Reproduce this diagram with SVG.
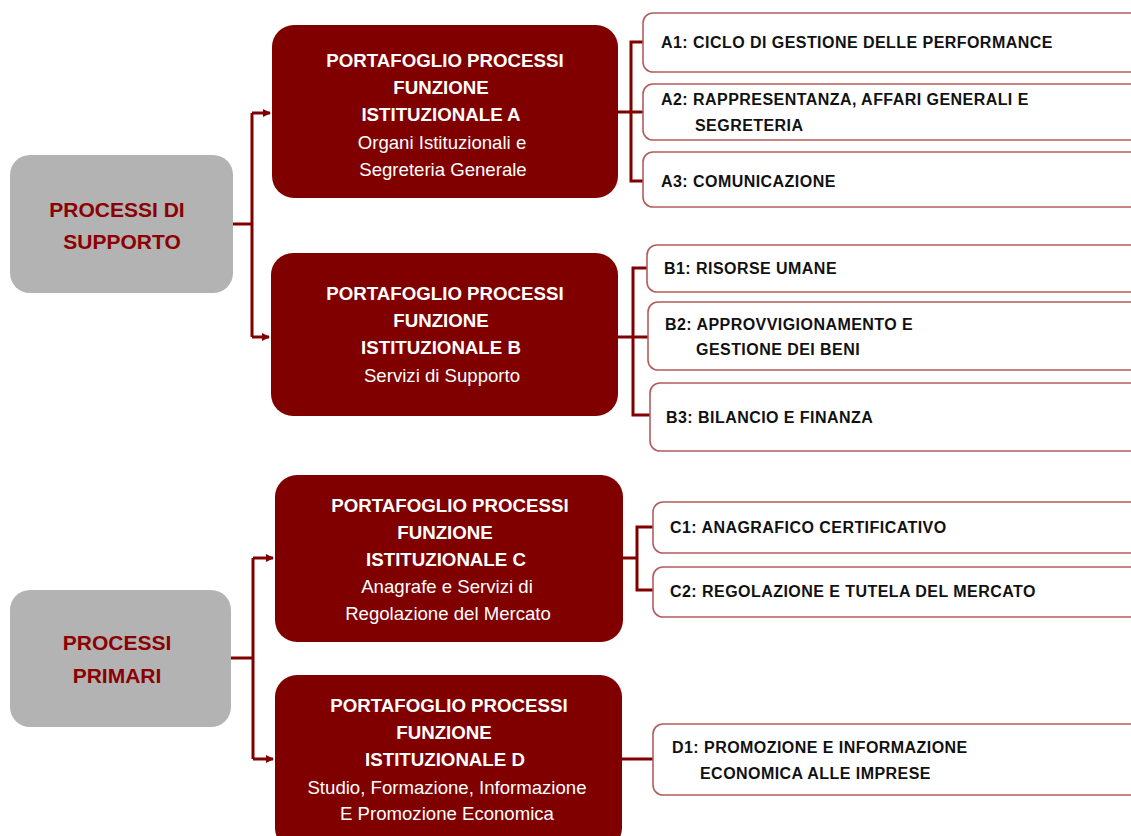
<svg xmlns="http://www.w3.org/2000/svg" width="1131" height="836" viewBox="0 0 1131 836">
<style>
.gray{fill:#b3b3b3}
.main{fill:#800000}
.child{fill:#fff;stroke:#b35c5c;stroke-width:1.6}
.gt{font-family:"Liberation Sans",Arial,sans-serif;font-weight:bold;font-size:21px;fill:#8b0000;text-anchor:middle}
.mt{font-family:"Liberation Sans",Arial,sans-serif;font-weight:bold;font-size:18.7px;fill:#fff;text-anchor:middle}
.ms{font-family:"Liberation Sans",Arial,sans-serif;font-size:18.6px;fill:#fff;text-anchor:middle}
.ct{font-family:"Liberation Sans",Arial,sans-serif;font-weight:bold;font-size:16px;letter-spacing:0.45px;fill:#111}
.ln{fill:none;stroke:#800000;stroke-width:3}
</style>
<defs>
<marker id="ah" markerWidth="8" markerHeight="8" refX="7" refY="4" orient="auto" markerUnits="userSpaceOnUse">
<path d="M0,0 L8,4 L0,8 Z" fill="#800000"/>
</marker>
</defs>
<rect width="1131" height="836" fill="#fff"/>

<g id="connectors">
<path class="ln" d="M233,224 H252"/>
<path class="ln" d="M252,113 V337"/>
<path class="ln" d="M252,113 H270" marker-end="url(#ah)"/>
<path class="ln" d="M252,337 H269" marker-end="url(#ah)"/>
<path class="ln" d="M231,658 H253"/>
<path class="ln" d="M253,558 V759"/>
<path class="ln" d="M253,558 H273" marker-end="url(#ah)"/>
<path class="ln" d="M253,759 H273" marker-end="url(#ah)"/>
<path class="ln" d="M618,112 H631"/>
<path class="ln" d="M643,42 H631 V181 H643"/>
<path class="ln" d="M631,112 H643"/>
<path class="ln" d="M618,337 H633"/>
<path class="ln" d="M647,268 H633 V415 H650"/>
<path class="ln" d="M633,337 H648"/>
<path class="ln" d="M623,558 H637"/>
<path class="ln" d="M653,527 H637 V590 H653"/>
<path class="ln" d="M622,759 H653"/>
</g>

<g id="supporto">
<rect class="gray" x="10" y="155" width="223" height="138" rx="20"/>
<text class="gt" x="117" y="217">PROCESSI DI</text>
<text class="gt" x="122" y="249">SUPPORTO</text>
</g>

<g id="primari">
<rect class="gray" x="10" y="590" width="221" height="137" rx="20"/>
<text class="gt" x="117" y="650">PROCESSI</text>
<text class="gt" x="117" y="683">PRIMARI</text>
</g>

<g id="funzA">
<rect class="main" x="272" y="25" width="346" height="173" rx="22"/>
<text class="mt" x="445" y="67">PORTAFOGLIO PROCESSI</text>
<text class="mt" x="441" y="94">FUNZIONE</text>
<text class="mt" x="441" y="121">ISTITUZIONALE A</text>
<text class="ms" x="442" y="149">Organi Istituzionali e</text>
<text class="ms" x="443" y="176">Segreteria Generale</text>
</g>

<g id="funzB">
<rect class="main" x="271" y="253" width="347" height="163" rx="22"/>
<text class="mt" x="445" y="300">PORTAFOGLIO PROCESSI</text>
<text class="mt" x="441" y="327">FUNZIONE</text>
<text class="mt" x="441" y="354">ISTITUZIONALE B</text>
<text class="ms" x="442" y="382">Servizi di Supporto</text>
</g>

<g id="funzC">
<rect class="main" x="275" y="475" width="348" height="167" rx="22"/>
<text class="mt" x="450" y="512">PORTAFOGLIO PROCESSI</text>
<text class="mt" x="445" y="539">FUNZIONE</text>
<text class="mt" x="446" y="566">ISTITUZIONALE C</text>
<text class="ms" x="447" y="593">Anagrafe e Servizi di</text>
<text class="ms" x="448" y="620">Regolazione del Mercato</text>
</g>

<g id="funzD">
<rect class="main" x="275" y="675" width="347" height="175" rx="22"/>
<text class="mt" x="449" y="712">PORTAFOGLIO PROCESSI</text>
<text class="mt" x="444" y="739">FUNZIONE</text>
<text class="mt" x="445" y="766">ISTITUZIONALE D</text>
<text class="ms" x="447" y="794">Studio, Formazione, Informazione</text>
<text class="ms" x="447" y="820">E Promozione Economica</text>
</g>

<g id="A1"><rect class="child" x="643" y="13" width="500" height="59" rx="10"/><text class="ct" x="661" y="48">A1: CICLO DI GESTIONE DELLE PERFORMANCE</text></g>
<g id="A2"><rect class="child" x="643" y="84" width="500" height="56" rx="10"/><text class="ct" x="661" y="105">A2: RAPPRESENTANZA, AFFARI GENERALI E</text><text class="ct" x="695" y="131">SEGRETERIA</text></g>
<g id="A3"><rect class="child" x="643" y="152" width="500" height="55" rx="10"/><text class="ct" x="661" y="187">A3: COMUNICAZIONE</text></g>

<g id="B1"><rect class="child" x="647" y="245" width="500" height="47" rx="10"/><text class="ct" x="664" y="274">B1: RISORSE UMANE</text></g>
<g id="B2"><rect class="child" x="648" y="302" width="500" height="68" rx="10"/><text class="ct" x="665" y="330">B2: APPROVVIGIONAMENTO E</text><text class="ct" x="696" y="355">GESTIONE DEI BENI</text></g>
<g id="B3"><rect class="child" x="650" y="383" width="500" height="68" rx="10"/><text class="ct" x="666" y="423">B3: BILANCIO E FINANZA</text></g>

<g id="C1"><rect class="child" x="653" y="502" width="500" height="51" rx="10"/><text class="ct" x="670" y="533">C1: ANAGRAFICO CERTIFICATIVO</text></g>
<g id="C2"><rect class="child" x="653" y="567" width="500" height="50" rx="10"/><text class="ct" x="670" y="597">C2: REGOLAZIONE E TUTELA DEL MERCATO</text></g>

<g id="D1"><rect class="child" x="653" y="724" width="500" height="71" rx="10"/><text class="ct" x="672" y="753">D1: PROMOZIONE E INFORMAZIONE</text><text class="ct" x="700" y="779">ECONOMICA ALLE IMPRESE</text></g>
</svg>
